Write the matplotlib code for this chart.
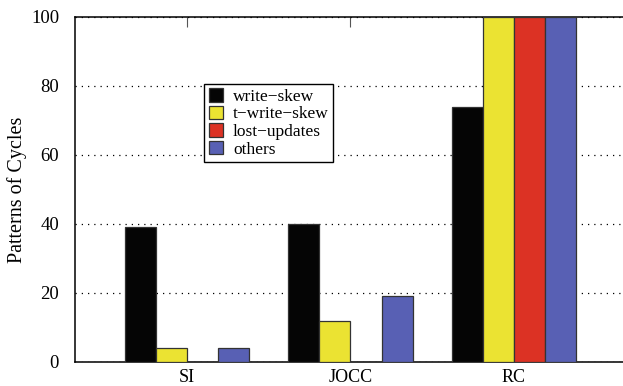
import numpy as np
import matplotlib.pyplot as plt

plt.rcParams['font.family'] = ['Liberation Serif', 'DejaVu Serif']

categories = ['SI', 'JOCC', 'RC']
series_names = ['write\u2212skew', 't\u2212write\u2212skew', 'lost\u2212updates', 'others']
write_skew = [39, 40, 74]
t_write_skew = [4, 12, 100]
lost_updates = [0, 0, 100]
others = [4, 19, 100]
colors = ['#050505', '#ebe332', '#dc3224', '#5860b4']

series = [write_skew, t_write_skew, lost_updates, others]

fig = plt.figure(figsize=(6.23, 3.86), dpi=100)
ax = fig.add_axes([0.1204, 0.0622, 0.8796, 0.8938])

x = np.arange(len(categories))
w = 0.19
for i, (vals, name, c) in enumerate(zip(series, series_names, colors)):
    ax.bar(x + (i - 1.5) * w, vals, width=w, color=c, edgecolor='#333333',
           linewidth=0.9, label=name, zorder=3)

ax.set_xlim(-0.685, 2.667)
ax.set_ylim(0, 100)
ax.set_yticks([0, 20, 40, 60, 80, 100])
ax.set_xticks(x)
ax.set_xticklabels(categories)
ax.yaxis.grid(True, color='black', linestyle=(0, (1, 4)), linewidth=0.9)
ax.set_axisbelow(True)
ax.spines['right'].set_visible(False)
for s in ['left', 'top', 'bottom']:
    ax.spines[s].set_linewidth(1.1)

ax.tick_params(axis='x', top=True, bottom=False, direction='in', length=7,
               labelsize=13, pad=5, color='#555555')
ax.tick_params(axis='y', left=False, right=False, labelsize=13.5, pad=8)
ax.set_ylabel('Patterns of Cycles', fontsize=14.5, labelpad=3)

leg = ax.legend(loc='upper left', bbox_to_anchor=(0.236, 0.806), fontsize=12.5,
                frameon=True, fancybox=False, edgecolor='black', framealpha=1,
                handlelength=0.8, handleheight=0.8, handletextpad=0.6,
                labelspacing=0.05, borderpad=0.25, borderaxespad=0)
leg.get_frame().set_linewidth(1.0)
leg.set_zorder(5)

fig.savefig('out.png', dpi=100)
